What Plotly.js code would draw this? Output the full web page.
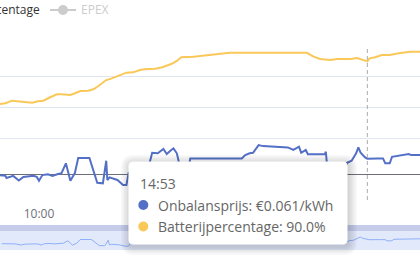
<!DOCTYPE html>
<html><head><meta charset="utf-8">
<script src="https://cdn.plot.ly/plotly-3.0.1.min.js"></script>
<style>html,body{margin:0;padding:0;background:#fff;}#chart{width:420px;height:272px;}</style>
</head><body><div id="chart"></div>
<script>
const DAY = '2024-05-01 ';
const seriesNames = ['Onbalansprijs', 'Batterijpercentage', 'EPEX'];

const priceTimes = ['09:25','09:30','09:31','09:37','09:42','09:46','09:55','09:58','10:00','10:03','10:08','10:12','10:17','10:20','10:24','10:28','10:32','10:35','10:45','10:49','10:52','10:57','11:00','11:01','11:03','11:08','11:10','11:15','11:18','11:20','11:30','11:37','11:39','11:41','11:46','11:51','11:54','11:58','12:00','12:03','12:05','12:08','12:13','12:15','13:01','13:04','13:08','13:11','13:16','13:20','13:35','13:42','13:44','13:47','13:52','13:54','13:58','14:00','14:15','14:16','14:17','14:20','14:31','14:35','14:39','14:43','14:45','14:47','14:51','14:53','15:02','15:07','15:09','15:13','15:15','15:25','15:27','15:30','15:32','15:40'];
const priceValues = [-0.003,-0.006,-0.014,-0.006,-0.024,-0.010,-0.006,-0.010,-0.025,-0.003,0.000,-0.006,0.001,0.004,0.043,-0.025,0.005,0.064,0.064,0.005,-0.033,-0.035,0.053,-0.022,-0.012,-0.019,-0.022,-0.042,-0.042,0.005,0.025,0.032,0.049,0.084,0.082,0.099,0.079,0.095,0.101,0.082,0.044,0.009,0.009,0.062,0.062,0.075,0.082,0.084,0.114,0.110,0.108,0.105,0.101,0.095,0.108,0.084,0.095,0.078,0.078,0.088,0.036,0.009,0.009,0.045,0.053,0.082,0.105,0.084,0.066,0.061,0.062,0.062,0.043,0.043,0.068,0.075,0.077,0.079,0.075,0.075];

const batteryTimes = ['09:25','09:30','09:36','09:40','09:46','09:54','09:59','10:04','10:10','10:16','10:20','10:28','10:32','10:37','10:44','10:49','10:53','11:00','11:05','11:09','11:15','11:18','11:24','11:30','11:36','11:44','11:50','11:54','11:58','12:03','12:07','12:18','12:24','12:33','12:45','12:50','13:59','14:05','14:11','14:20','14:26','14:38','14:44','14:48','14:50','14:53','14:55','15:00','15:06','15:13','15:21','15:25','15:31','15:40'];
const batteryValues = [62.3,62.8,64.5,64.3,63.6,63.2,64.1,64.5,66.7,68.6,68.6,68.2,69.3,70.8,71.0,72.1,74.0,77.9,79.0,80.1,81.8,82.7,82.9,84.4,85.1,85.3,86.2,87.0,88.3,90.3,92.7,93.1,93.5,94.2,94.8,95.6,95.6,93.1,91.6,90.9,91.6,91.6,92.2,91.4,90.6,90.0,92.0,92.7,94.2,94.2,95.3,95.6,96.3,96.3];

// only the 10:00 label is visible; the 12:00 and 14:00 labels sit under the tooltip
const xTickTimes = ['10:00'];
const xTickLabels = ['10:00'];
const pctGridTicks = [0, 40, 60, 80, 100];
const hoverTime = '14:53';

const BLUE = '#5470c6', YELLOW = '#fac858';
const FONT = 'Open Sans, Noto Sans, sans-serif';

// pixel -> paper helpers (plot area: x 0..420, y 46..250)
const px = x => x / 420;
const py = y => (250 - y) / 204;

function roundRect(x0, y0, x1, y1, r) {
  const P = (x, y) => px(x).toFixed(5) + ',' + py(y).toFixed(5);
  return 'M' + P(x0 + r, y0) + ' L' + P(x1 - r, y0) + ' Q' + P(x1, y0) + ' ' + P(x1, y0 + r) +
    ' L' + P(x1, y1 - r) + ' Q' + P(x1, y1) + ' ' + P(x1 - r, y1) +
    ' L' + P(x0 + r, y1) + ' Q' + P(x0, y1) + ' ' + P(x0, y1 - r) +
    ' L' + P(x0, y0 + r) + ' Q' + P(x0, y0) + ' ' + P(x0 + r, y0) + ' Z';
}

const tx = a => a.map(t => DAY + t);

const traces = [
  { x: tx(priceTimes), y: priceValues, name: seriesNames[0], type: 'scatter', mode: 'lines',
    line: { color: BLUE, width: 2 }, xaxis: 'x', yaxis: 'y', hoverinfo: 'skip' },
  { x: tx(batteryTimes), y: batteryValues, name: seriesNames[1], type: 'scatter', mode: 'lines',
    line: { color: YELLOW, width: 2 }, xaxis: 'x', yaxis: 'y2', hoverinfo: 'skip' },
  { x: tx(priceTimes), y: priceValues, name: 'shadow', type: 'scatter', mode: 'lines',
    line: { color: '#8fb0f7', width: 1 }, xaxis: 'x2', yaxis: 'y3', hoverinfo: 'skip' }
];

const shapes = [
  // dataZoom slider
  { type: 'rect', xref: 'paper', yref: 'paper', layer: 'below', x0: 0, x1: 1, y0: py(250), y1: py(231),
    fillcolor: '#e2e9fb', line: { width: 0 } },
  { type: 'rect', xref: 'paper', yref: 'paper', layer: 'below', x0: 0, x1: 1, y0: py(231), y1: py(225),
    fillcolor: '#c4cce9', line: { width: 0 } },
  // hover guide line
  { type: 'line', xref: 'x', yref: 'paper', layer: 'above', x0: DAY + hoverTime, x1: DAY + hoverTime,
    y0: py(200), y1: py(46), line: { color: '#aaaaaa', width: 1, dash: '4px,3px' } },
  // legend icon EPEX (disabled)
  { type: 'line', xref: 'paper', yref: 'paper', layer: 'above', x0: px(50), x1: px(76), y0: py(10), y1: py(10),
    line: { color: '#cccccc', width: 2 } },
  { type: 'circle', xref: 'paper', yref: 'paper', layer: 'above', x0: px(58), x1: px(68), y0: py(15), y1: py(5),
    fillcolor: '#cccccc', line: { width: 0 } }
];

// tooltip shadow + box
for (let i = 6; i >= 1; i--) {
  const e = i * 1.5;
  shapes.push({ type: 'path', xref: 'paper', yref: 'paper', layer: 'above',
    path: roundRect(129 - e + 1, 162 - e + 2, 347 + e + 1, 244 + e + 2, 4 + e),
    fillcolor: 'rgba(0,0,0,0.028)', line: { width: 0 } });
}
shapes.push({ type: 'path', xref: 'paper', yref: 'paper', layer: 'above',
  path: roundRect(129, 162, 347, 244, 4), fillcolor: '#ffffff', line: { color: '#ffffff', width: 1 } });
shapes.push({ type: 'circle', xref: 'paper', yref: 'paper', layer: 'above',
  x0: px(138.3), x1: px(148.3), y0: py(210), y1: py(200), fillcolor: BLUE, line: { width: 0 } });
shapes.push({ type: 'circle', xref: 'paper', yref: 'paper', layer: 'above',
  x0: px(138.3), x1: px(148.3), y0: py(231.5), y1: py(221.5), fillcolor: YELLOW, line: { width: 0 } });

const pi = priceTimes.indexOf(hoverTime);
const bi = batteryTimes.indexOf(hoverTime);

const annotations = [
  { text: seriesNames[1], xref: 'paper', yref: 'paper', x: px(42), y: py(10), xanchor: 'right', yanchor: 'middle',
    showarrow: false, font: { family: FONT, size: 12, color: '#333333' } },
  { text: seriesNames[2], xref: 'paper', yref: 'paper', x: px(79), y: py(10), xanchor: 'left', yanchor: 'middle',
    showarrow: false, font: { family: FONT, size: 12, color: '#cccccc' } },
  { text: hoverTime, xref: 'paper', yref: 'paper', x: px(138), y: py(183), xanchor: 'left', yanchor: 'middle',
    showarrow: false, font: { family: FONT, size: 14, color: '#666666' } },
  { text: seriesNames[0] + ': €' + priceValues[pi].toFixed(3) + '/kWh', xref: 'paper', yref: 'paper',
    x: px(156), y: py(205), xanchor: 'left', yanchor: 'middle',
    showarrow: false, font: { family: FONT, size: 14, color: '#666666' } },
  { text: seriesNames[1] + ': ' + batteryValues[bi].toFixed(1) + '%', xref: 'paper', yref: 'paper',
    x: px(156), y: py(226.5), xanchor: 'left', yanchor: 'middle',
    showarrow: false, font: { family: FONT, size: 14, color: '#666666' } }
];

const layout = {
  width: 420, height: 272,
  margin: { l: 0, r: 0, t: 46, b: 22, pad: 0 },
  paper_bgcolor: '#ffffff', plot_bgcolor: 'rgba(0,0,0,0)',
  showlegend: false,
  font: { family: FONT },
  xaxis: { type: 'date', domain: [0, 1], anchor: 'y', range: [DAY + '09:25:12', DAY + '15:40:00'],
    tickmode: 'array', tickvals: tx(xTickTimes), ticktext: xTickLabels,
    showgrid: false, zeroline: false, showline: false, ticks: 'outside', ticklen: 3, tickcolor: 'rgba(0,0,0,0)',
    tickfont: { family: FONT, size: 12, color: '#6e7079' } },
  yaxis: { domain: [py(200), 1], anchor: 'x', range: [-0.1, 0.5], showgrid: false, showticklabels: false,
    zeroline: true, zerolinecolor: '#6e7079', zerolinewidth: 1, ticks: '' },
  yaxis2: { overlaying: 'y', anchor: 'x', side: 'right', range: [0, 100], tickmode: 'array', tickvals: pctGridTicks,
    showgrid: true, gridcolor: '#e0e6f1', gridwidth: 1, showticklabels: false, zeroline: false, ticks: '' },
  xaxis2: { type: 'date', domain: [0, 1], anchor: 'y3', range: [DAY + '09:23:25', DAY + '15:38:13'],
    showgrid: false, zeroline: false, showticklabels: false, ticks: '', showline: false },
  yaxis3: { domain: [0, py(231)], anchor: 'x2', range: [-0.104, 0.2], showgrid: false, zeroline: false,
    showticklabels: false, ticks: '' },
  shapes: shapes,
  annotations: annotations
};

Plotly.newPlot('chart', traces, layout, { staticPlot: true, displayModeBar: false });
</script>
</body></html>
